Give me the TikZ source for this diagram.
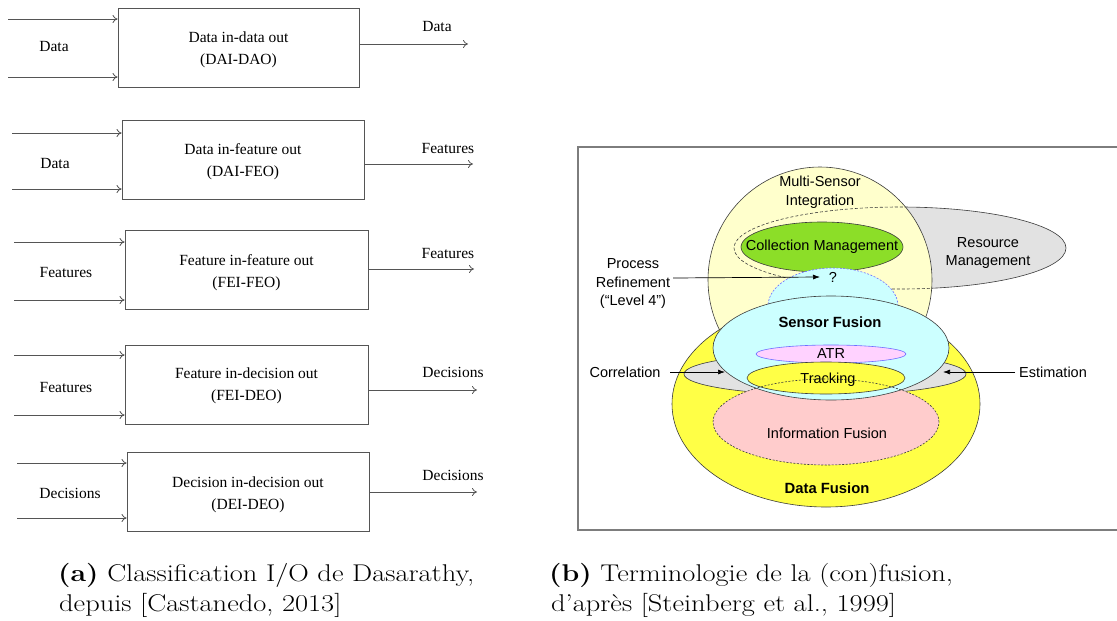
\documentclass[tikz,border=0pt]{standalone}
\usepackage{fontspec}
\newfontfamily\serifT{Liberation Serif}
\newfontfamily\sansA{Liberation Sans}
\usetikzlibrary{arrows.meta,shapes.geometric}
\definecolor{lineg}{RGB}{85,85,85}
\definecolor{msiy}{RGB}{255,255,204}
\definecolor{rmg}{RGB}{226,226,226}
\definecolor{cmg}{RGB}{140,222,40}
\definecolor{sfc}{RGB}{204,255,255}
\definecolor{dfy}{RGB}{255,255,70}
\definecolor{ifp}{RGB}{255,204,204}
\definecolor{atrp}{RGB}{255,210,255}
\definecolor{atrb}{RGB}{110,110,255}
\definecolor{edge}{RGB}{60,60,60}
\definecolor{frameg}{RGB}{125,125,125}
\newcommand{\capstretch}[1]{\scalebox{1.175}[1]{#1}}
\begin{document}
\begin{tikzpicture}[x=1pt,y=-1pt,
  blk/.style={draw=lineg, line width=0.9pt, minimum height=79pt, inner sep=0pt},
  blktxt/.style={align=center, inner sep=0pt, font=\serifT\fontsize{15.5}{22}\selectfont},
  ioarrow/.style={draw=lineg, line width=0.8pt, -{To[length=5pt,width=8pt]}},
  iolabel/.style={font=\serifT\fontsize{15.5}{18}\selectfont, inner sep=0pt},
  ell/.style={ellipse, inner sep=0pt, draw=edge, line width=0.6pt},
  rtxt/.style={font=\sansA\fontsize{14.5}{18.5}\selectfont, inner sep=0pt, align=center},
  rbold/.style={font=\sansA\bfseries\fontsize{14.8}{18}\selectfont, inner sep=0pt},
  parrow/.style={draw=black, line width=0.7pt, -{Latex[length=7pt,width=5pt]}},
  captxt/.style={font=\fontsize{24.2}{28}\selectfont, inner sep=0pt, anchor=base west}
]
\useasboundingbox (0,0) rectangle (1117,621);
\fill[white] (0,0) rectangle (1117,621);

% ---------------- left panel ----------------
\node[blk, minimum width=241pt] (b1) at (238.5,47.5) {};
\node[blk, minimum width=242pt] (b2) at (243,159.5) {};
\node[blk, minimum width=243pt] (b3) at (246.5,269.5) {};
\node[blk, minimum width=243pt] (b4) at (246.5,384.5) {};
\node[blk, minimum width=242pt] (b5) at (248,491.5) {};
\node[blktxt] (t1) at (238.5,49.5) {Data in-data out\\(DAI-DAO)};
\node[blktxt] (t2) at (243,161.5) {Data in-feature out\\(DAI-FEO)};
\node[blktxt] (t3) at (246.5,272.5) {Feature in-feature out\\(FEI-FEO)};
\node[blktxt] (t4) at (246.5,385.5) {Feature in-decision out\\(FEI-DEO)};
\node[blktxt] (t5) at (248,495) {Decision in-decision out\\(DEI-DEO)};

\coordinate (i1a) at (8,19);  \coordinate (i1b) at (8,77);
\coordinate (i2a) at (12,133); \coordinate (i2b) at (12,189);
\coordinate (i3a) at (14,242); \coordinate (i3b) at (14,300);
\coordinate (i4a) at (14,355); \coordinate (i4b) at (14,415);
\coordinate (i5a) at (17,463); \coordinate (i5b) at (17,518);
\foreach \b/\i in {b1/i1,b2/i2,b3/i3,b4/i4,b5/i5}{
  \draw[ioarrow] (\i a) -- (\b.west |- \i a);
  \draw[ioarrow] (\i b) -- (\b.west |- \i b);
}
\coordinate (o1) at (468,44);
\coordinate (o2) at (473,164);
\coordinate (o3) at (474,269);
\coordinate (o4) at (477,390);
\coordinate (o5) at (477,492);
\foreach \b/\o in {b1/o1,b2/o2,b3/o3,b4/o4,b5/o5}{
  \draw[ioarrow] (\b.east |- \o) -- (\o);
}
\node[iolabel] (l1) at (54,47) {Data};
\node[iolabel] (l2) at (55,163) {Data};
\node[iolabel] (l3) at (66,272) {Features};
\node[iolabel] (l4) at (66,387) {Features};
\node[iolabel] (l5) at (70,493) {Decisions};
\node[iolabel] (r1) at (437,27) {Data};
\node[iolabel] (r2) at (448,148) {Features};
\node[iolabel] (r3) at (448,253) {Features};
\node[iolabel] (r4) at (453,372) {Decisions};
\node[iolabel] (r5) at (453,475) {Decisions};

% ---------------- right panel ----------------
\draw[frameg, line width=1.4pt] (1130,147) -- (578,147) -- (578,530) -- (1130,530);

\node[ell, fill=rmg, minimum width=332pt, minimum height=82pt] (rm) at (900,248) {};
\node[ell, fill=msiy, minimum width=224pt, minimum height=226pt] (msi) at (820,280) {};
\begin{scope}
  \clip (820,280) ellipse [x radius=112pt, y radius=113pt];
  \draw[edge, line width=0.6pt, dash pattern=on 3pt off 2pt] (900,248) ellipse [x radius=166pt, y radius=41pt];
\end{scope}
\node[ell, fill=cmg, minimum width=162pt, minimum height=50pt] (cm) at (822,247) {};
\node[ell, fill=sfc, draw=atrb, dash pattern=on 2pt off 1.5pt, minimum width=130pt, minimum height=76pt] (q) at (833,306) {};

\node[ell, fill=dfy, minimum width=308pt, minimum height=206pt] (df) at (826,404) {};
\node[ell, fill=rmg, minimum width=282pt, minimum height=42pt] (corr) at (825,374) {};
\node[ellipse, inner sep=0pt, fill=ifp, minimum width=226pt, minimum height=86pt] (inf) at (826,422) {};
\node[ell, fill=sfc, minimum width=236pt, minimum height=104pt] (sf) at (831,348) {};
\node[ell, fill=atrp, draw=atrb, minimum width=150pt, minimum height=18pt] (atr) at (831,354) {};
\node[ell, fill=dfy, minimum width=158pt, minimum height=32pt] (trk) at (826,378) {};
\draw[edge, line width=0.6pt, dash pattern=on 2pt off 1.5pt] (826,422) ellipse [x radius=113pt, y radius=43pt];

% texts
\node[rtxt] (tmsi) at (820,192) {Multi-Sensor\\Integration};
\node[rtxt] (trm) at (988,253) {Resource\\Management};
\node[rtxt] (tcm) at (822,247) {Collection Management};
\node[rtxt] (tq) at (833,277) {?};
\node[rtxt] (pr) at (633,284) {Process\\Refinement\\(“Level 4”)};
\node[rbold] (tsf) at (830,322) {Sensor Fusion};
\node[rtxt] (tatr) at (831,354) {ATR};
\node[rtxt] (ttrk) at (828,380) {Tracking};
\node[rtxt] (tinf) at (827,433) {Information Fusion};
\node[rbold] (tdf) at (827,488) {Data Fusion};
\node[rtxt] (tcorr) at (625,372) {Correlation};
\node[rtxt] (test) at (1053,372) {Estimation};

\coordinate (prtip) at (820,277);
\coordinate (prs) at (673,278);
\draw[parrow] (prs) -- (prtip);
\coordinate (ctip) at (725,372);
\coordinate (cs) at (670,372);
\draw[parrow] (cs) -- (ctip);
\coordinate (etip) at (943,372);
\coordinate (es) at (1015,372);
\draw[parrow] (es) -- (etip);

% captions
\node[captxt] (capa1) at (58,581) {\capstretch{\textbf{(a)} Classification I/O de Dasarathy,}};
\node[captxt] (capa2) at (59,611) {\capstretch{depuis [Castanedo, 2013]}};
\node[captxt] (capb1) at (549,581) {\capstretch{\textbf{(b)} Terminologie de la (con)fusion,}};
\node[captxt] (capb2) at (551,611) {\capstretch{d’après [Steinberg et al., 1999]}};
\end{tikzpicture}
\end{document}
